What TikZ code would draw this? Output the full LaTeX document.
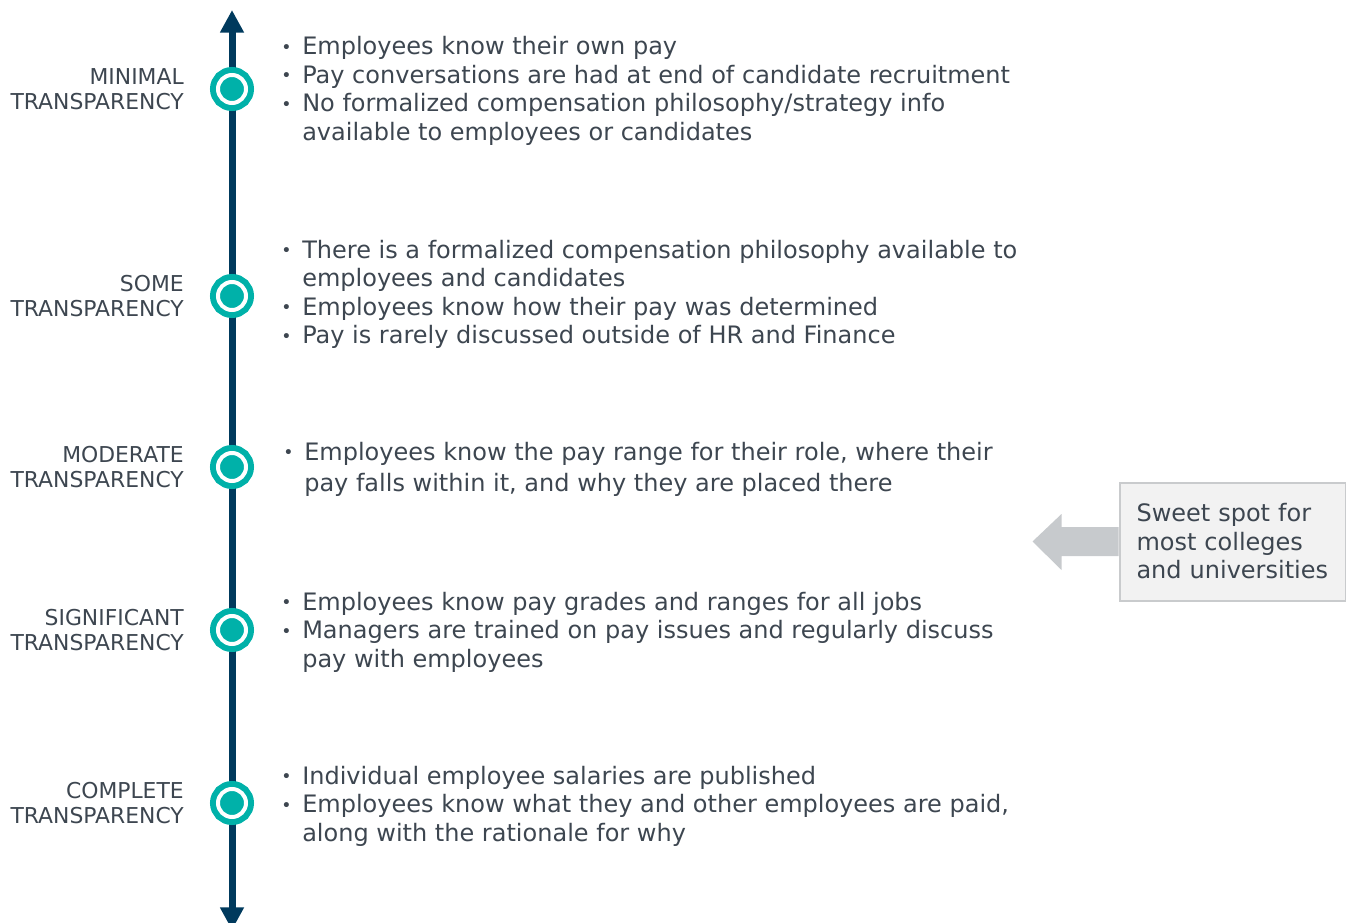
\documentclass[tikz,border=0pt]{standalone}
\usepackage{fontspec}
\setmainfont{DejaVu Sans}
\usepackage{xcolor}
\usetikzlibrary{arrows.meta}
\usetikzlibrary{calc}
\usetikzlibrary{positioning}

\definecolor{axisblue}{HTML}{003A5D}
\definecolor{dotteal}{HTML}{00B1A9}
\definecolor{textgray}{HTML}{3D4650}
\definecolor{boxgray}{HTML}{F2F2F2}
\definecolor{linegray}{HTML}{C9CBCD}
\definecolor{arrowgray}{HTML}{C7CACD}

\newcommand{\bul}{\makebox[15.75pt][l]{\raisebox{1.2pt}{\fontsize{13}{13}\selectfont •}}}
\newcommand{\cont}{\hspace*{15.75pt}}

\begin{document}
\begin{tikzpicture}
  [
    x = 0.75pt, y = -0.75pt,
    node distance = 24pt and 24pt,
    axis/.style = {axisblue, line width = 5.25pt,
                   arrows = {Triangle[width=17pt, length=17pt]-Triangle[width=17pt, length=17pt]}},
    stage/.style = {circle, fill = dotteal, draw = white, line width = 3pt,
                    minimum size = 21pt, inner sep = 0pt,
                    preaction = {draw = dotteal, line width = 12pt}},
    level/.style = {align = right, inner sep = 0pt, text = textgray,
                    font = \fontsize{16.4}{18.75}\selectfont},
    items/.style = {align = left, inner sep = 0pt, text = textgray, yshift = -1.5pt,
                    font = \fontsize{18}{21.4}\selectfont},
    sweet/.style = {draw = linegray, line width = 1.5pt, fill = boxgray,
                    text width = 144pt, inner xsep = 12.75pt, minimum height = 88.5pt,
                    align = left, text = textgray, font = \fontsize{18}{21.4}\selectfont},
  ]
  \useasboundingbox (0,0) rectangle (1346,923);

  % vertical scale
  \coordinate (top) at (232,10);
  \coordinate (bottom) at (232,930);
  \draw[axis] (bottom) -- (top);

  \node[stage] (minimal) at (232,89) {};
  \node[stage] (some) at (232,296) {};
  \node[stage] (moderate) at (232,467) {};
  \node[stage] (significant) at (232,630) {};
  \node[stage] (complete) at (232,803) {};

  \node[level] [left = of minimal] (l_minimal) {MINIMAL\\TRANSPARENCY};
  \node[level] [left = of some] (l_some) {SOME\\TRANSPARENCY};
  \node[level] [left = of moderate] (l_moderate) {MODERATE\\TRANSPARENCY};
  \node[level] [left = of significant] (l_significant) {SIGNIFICANT\\TRANSPARENCY};
  \node[level] [left = of complete] (l_complete) {COMPLETE\\TRANSPARENCY};

  \node[items] [right = 24.75pt of minimal] (i_minimal)
    {\bul Employees know their own pay\\
     \bul Pay conversations are had at end of candidate recruitment\\
     \bul No formalized compensation philosophy/strategy info\\
     \cont available to employees or candidates};
  \node[items] [right = 24.75pt of some, yshift = 2.6pt] (i_some)
    {\bul There is a formalized compensation philosophy available to\\
     \cont employees and candidates\\
     \bul Employees know how their pay was determined\\
     \bul Pay is rarely discussed outside of HR and Finance};
  \node[items, font = \fontsize{18}{23.25}\selectfont] [right = 26.25pt of moderate] (i_moderate)
    {\bul Employees know the pay range for their role, where their\\
     \cont pay falls within it, and why they are placed there};
  \node[items] [right = 24.75pt of significant] (i_significant)
    {\bul Employees know pay grades and ranges for all jobs\\
     \bul Managers are trained on pay issues and regularly discuss\\
     \cont pay with employees};
  \node[items] [right = 24.75pt of complete, yshift = -1pt] (i_complete)
    {\bul Individual employee salaries are published\\
     \bul Employees know what they and other employees are paid,\\
     \cont along with the rationale for why};

  % call-out on the right
  \node[sweet] (spot) at (1232.5,541.5)
    {Sweet spot for most colleges and universities};
  \coordinate (tip) at ($(spot.west)+(-86,0)$);
  \fill[arrowgray] ($(spot.west)+(0,-14.5)$) -- ++(-57,0) -- ++(0,-13)
    -- (tip) -- ($(spot.west)+(-57,28.5)$) -- ++(0,-14) -- ($(spot.west)+(0,14.5)$) -- cycle;
\end{tikzpicture}
\end{document}
